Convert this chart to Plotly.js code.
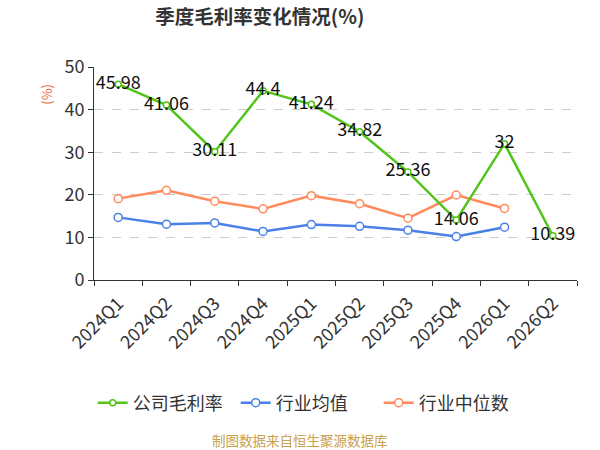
<!DOCTYPE html>
<html><head><meta charset="utf-8">
<script src="https://cdn.plot.ly/plotly-3.0.1.min.js"></script>
<style>body{margin:0;background:#fff}#c{width:600px;height:450px}</style>
</head><body><div id="c"></div>
<script>
const categories = ["2024Q1","2024Q2","2024Q3","2024Q4","2025Q1","2025Q2","2025Q3","2025Q4","2026Q1","2026Q2"];
const companyMargin = [45.98, 41.06, 30.11, 44.4, 41.24, 34.82, 25.36, 14.06, 32, 10.39];
const industryAvg = [14.7, 13.1, 13.4, 11.4, 13.0, 12.6, 11.7, 10.2, 12.4, null];
const industryMedian = [19.1, 21.05, 18.5, 16.7, 19.8, 17.9, 14.5, 19.95, 16.8, null];
const seriesNames = ["公司毛利率", "行业均值", "行业中位数"];
const colors = ["#52c41a", "#4a80e8", "#ff8a5b"];
const font = "Noto Sans CJK SC, Noto Sans, sans-serif";

function mk(y, i, withText, msize) {
  const t = {
    x: categories, y: y, name: seriesNames[i], type: "scatter", mode: withText ? "lines+markers+text" : "lines+markers",
    line: {color: colors[i], width: 2.5},
    marker: {symbol: "circle", size: msize, color: "#fff", line: {color: colors[i], width: 1.5}},
    hoverinfo: "skip"
  };
  if (withText) {
    t.text = y.map(v => String(v));
    t.textposition = "middle center";
    t.textfont = {family: font, size: 18, color: "#111"};
  }
  return t;
}
const data = [mk(industryAvg, 1, false, 8), mk(industryMedian, 2, false, 8), mk(companyMargin, 0, true, 6)];
data[2].legendrank = 1; data[0].legendrank = 2; data[1].legendrank = 3;

const layout = {
  width: 600, height: 450,
  margin: {l: 94, r: 23, t: 67, b: 170},
  paper_bgcolor: "#fff", plot_bgcolor: "#fff",
  font: {family: font, color: "#333"},
  title: {text: "<b>季度毛利率变化情况(%)</b>", x: 0.433, xanchor: "center", y: 0.962, yanchor: "middle", font: {size: 19.5, color: "#333", family: font}},
  xaxis: {
    type: "category", range: [-0.5, 9.5], tickson: "boundaries", ticks: "outside", ticklen: 5, tickcolor: "#333",
    showline: true, linecolor: "#333", linewidth: 1, showgrid: false, tickangle: -45, ticklabelstandoff: 5,
    tickfont: {size: 18, color: "#333", family: font}, fixedrange: true
  },
  yaxis: {
    range: [0, 50], dtick: 10, ticks: "outside", ticklen: 5, tickcolor: "#333",
    showline: true, linecolor: "#333", linewidth: 1,
    showgrid: true, gridcolor: "#cccccc", griddash: "dash", gridwidth: 1, zeroline: false,
    tickfont: {size: 18, color: "#333", family: font}, fixedrange: true
  },
  showlegend: true,
  legend: {orientation: "h", xref: "container", yref: "container", x: 0.512, xanchor: "center", y: 1 - 403 / 450, yanchor: "middle", entrywidth: 98, entrywidthmode: "pixels", font: {size: 18, color: "#333", family: font}},
  annotations: [
    {text: "(%)", xref: "paper", yref: "paper", x: -0.1, xanchor: "center", y: 0.873, yanchor: "middle", showarrow: false, textangle: -90, font: {size: 13, color: "#e8663a", family: font}},
    {text: "制图数据来自恒生聚源数据库", xref: "paper", yref: "paper", x: 0.4265, y: -0.751, xanchor: "center", yanchor: "middle", showarrow: false, font: {size: 13.5, color: "#c9a04c", family: font}}
  ]
};
Plotly.newPlot("c", data, layout, {displayModeBar: false, staticPlot: true});
</script></body></html>
